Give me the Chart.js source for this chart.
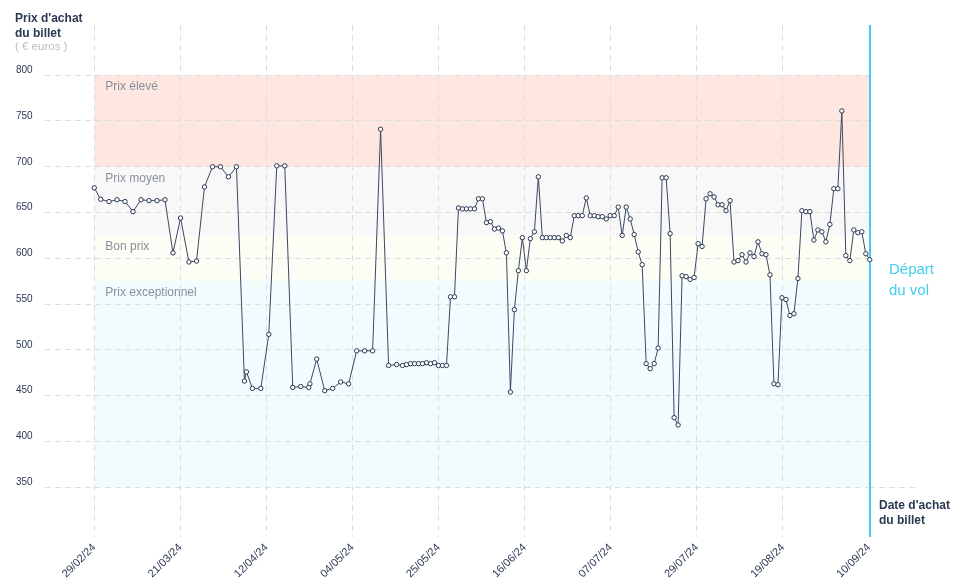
<!DOCTYPE html>
<html><head><meta charset="utf-8">
<script src="https://cdn.jsdelivr.net/npm/chart.js@4.4.1/dist/chart.umd.min.js"></script>
<style>html,body{margin:0;padding:0;background:#fff;}</style>
</head><body>
<canvas id="c" width="958" height="585"></canvas>
<script>
// Days since 29/02/24 for each observed purchase price
const dayOffsets = [
 0,1.6,3.7,5.7,7.7,9.7,11.7,13.7,15.7,17.7,
 19.7,21.6,23.7,25.6,27.6,29.6,31.6,33.6,35.6,37.6,
 38.1,39.6,41.7,43.7,45.7,47.7,49.7,51.7,53.7,54.0,
 55.7,57.7,59.7,61.7,63.7,65.7,67.7,69.7,71.7,73.7,
 75.7,77.2,78.2,79.2,80.2,81.2,82.2,83.2,84.2,85.2,
 86.2,87.2,88.2,89.2,90.2,91.2,92.2,93.2,94.2,95.2,
 96.2,97.2,98.2,99.2,100.2,101.2,102.2,103.2,104.2,105.2,
 106.2,107.2,108.2,109.2,110.2,111.2,112.2,113.2,114.2,115.2,
 116.2,117.2,118.2,119.2,120.2,121.2,122.2,123.2,124.2,125.2,
 126.2,127.2,128.2,129.2,130.2,131.2,132.2,133.2,134.2,135.2,
 136.2,137.2,138.2,139.2,140.2,141.2,142.2,143.2,144.2,145.2,
 146.2,147.2,148.2,149.2,150.2,151.2,152.2,153.2,154.2,155.2,
 156.2,157.2,158.2,159.2,160.2,161.2,162.2,163.2,164.2,165.2,
 166.2,167.2,168.2,169.2,170.2,171.2,172.2,173.2,174.2,175.2,
 176.2,177.2,178.2,179.2,180.2,181.2,182.2,183.2,184.2,185.2,
 186.2,187.2,188.2,189.2,190.2,191.2,192.2,193.2,194.2
];
const prices = [
 677,664.5,662,664,662,651,664,663,663,664,
 606,644,596,597,678,700,700,689,700,466,
 476,458,458,517,701,701,459,460,459,463,
 490,455.5,458,465,463,499,499,499,741,483,
 484,483,484,485,485,485,485,486,485,486,
 483,483,483,558,558,655,654,654,654,654,
 665,665,639,640,632,633,630,606,454,544,
 586.5,622.6,586.5,621.5,629,689,622.6,622.6,622.6,622.6,
 622.6,619,625,622.6,646.6,646.6,646.6,666,646.6,646.6,
 645.5,645.5,643,646.6,646.6,656,625,656,643,626,
 607,593,485,479.5,485,502,688,688,627,426,
 418,581,580,577,579,616,613,665,670.5,667,
 658.5,658.5,652,663,596,597.5,604,596,606,602,
 618,605,604,582,463,462,557,555,537.5,539.5,
 578,652,651,651,620,631,629,618,637,676,
 676,761,603,597.5,631,628,629,605,598.5
];
const xTickLabels = ['29/02/24','21/03/24','12/04/24','04/05/24','25/05/24','16/06/24','07/07/24','29/07/24','19/08/24','10/09/24'];
const firstDay = 0;
const departureDay = 194;
const yTickValues = [350,400,450,500,550,600,650,700,750,800];
const bandNames = ['Prix élevé','Prix moyen','Bon prix','Prix exceptionnel'];
const bandTops = [800,700,625,575];
const bandBottoms = [700,625,575,350];
const bandColors = ['#FEE7E1','#F8F8F8','#FCFDF4','#F2FCFE'];

const NAVY = '#2B3853';
const FONT = '"Liberation Sans", Arial, sans-serif';

const points = dayOffsets.map((d, i) => ({x: d, y: prices[i]}));

const decor = {
  id: 'decor',
  beforeDraw(chart) {
    const {ctx} = chart; const xs = chart.scales.x, ys = chart.scales.y;
    const x0 = xs.getPixelForValue(firstDay), x1 = xs.getPixelForValue(departureDay);
    ctx.save();
    bandNames.forEach((n, i) => {
      const yt = ys.getPixelForValue(bandTops[i]), yb = ys.getPixelForValue(bandBottoms[i]);
      ctx.fillStyle = bandColors[i];
      ctx.fillRect(x0, yt, x1 - x0, yb - yt);
    });
    ctx.restore();
  },
  beforeDatasetsDraw(chart) {
    const {ctx, chartArea} = chart; const xs = chart.scales.x, ys = chart.scales.y;
    ctx.save();
    const y350 = Math.round(ys.getPixelForValue(yTickValues[0])) + 0.5;
    ctx.strokeStyle = '#DEDEDE'; ctx.lineWidth = 1; ctx.setLineDash([6,4]);
    ctx.beginPath(); ctx.moveTo(chartArea.right, y350); ctx.lineTo(919, y350); ctx.stroke();
    ctx.setLineDash([]);
    ctx.font = '12px ' + FONT; ctx.fillStyle = '#8A909C'; ctx.textBaseline = 'middle'; ctx.textAlign = 'left';
    const x0 = xs.getPixelForValue(firstDay);
    bandNames.forEach((n, i) => {
      ctx.fillText(n, x0 + 11, ys.getPixelForValue(bandTops[i]) + 11.5);
    });
    // departure line
    const xd = Math.round(xs.getPixelForValue(departureDay)) + 1;
    ctx.strokeStyle = '#45CAF0'; ctx.lineWidth = 2;
    ctx.beginPath(); ctx.moveTo(xd, chartArea.top); ctx.lineTo(xd, chartArea.bottom); ctx.stroke();
    ctx.restore();
  },
  afterDraw(chart) {
    const {ctx} = chart;
    ctx.save();
    ctx.textBaseline = 'middle'; ctx.textAlign = 'left';
    ctx.fillStyle = NAVY; ctx.font = 'bold 12px ' + FONT;
    ctx.fillText("Prix d'achat", 15, 19);
    ctx.fillText('du billet', 15, 34);
    ctx.fillText("Date d'achat", 879, 506);
    ctx.fillText('du billet', 879, 521);
    ctx.fillStyle = '#BDBDBD'; ctx.font = '11.5px ' + FONT;
    ctx.fillText('( € euros )', 15, 47);
    ctx.fillStyle = '#3FCFF0'; ctx.font = '15px ' + FONT;
    ctx.fillText('Départ', 889, 270);
    ctx.fillText('du vol', 889, 291);
    ctx.restore();
  }
};

new Chart(document.getElementById('c'), {
  type: 'line',
  data: { datasets: [{
    data: points,
    borderColor: '#3A4866', borderWidth: 1, tension: 0,
    pointRadius: 2.2, pointBorderWidth: 1, pointBackgroundColor: '#ffffff', pointBorderColor: NAVY,
    clip: false
  }]},
  options: {
    responsive: false, animation: false, devicePixelRatio: 1,
    layout: { padding: { left: 16, right: 89, top: 25, bottom: 0 } },
    plugins: { legend: { display: false }, tooltip: { enabled: false } },
    scales: {
      x: {
        type: 'linear', min: -12.34, max: departureDay,
        afterBuildTicks: s => { s.ticks = xTickLabels.map((l, i) => ({ value: firstDay + i * (departureDay - firstDay) / (xTickLabels.length - 1) })); },
        afterFit: s => { s.height = 48; },
        ticks: { autoSkip: false, minRotation: 45, maxRotation: 45, padding: 4, color: NAVY,
                 font: { family: FONT, size: 11 }, callback: (v, i) => xTickLabels[i] },
        grid: { color: '#DEDEDE', lineWidth: 1, drawTicks: false, tickLength: 0 },
        border: { display: false, dash: [6,4] }
      },
      y: {
        type: 'linear', min: 295.7, max: 854.8,
        afterBuildTicks: s => { s.ticks = yTickValues.map(v => ({ value: v })); },
        afterFit: s => { s.width = 29; },
        ticks: { crossAlign: 'far', labelOffset: -5, padding: 0, color: NAVY,
                 font: { family: FONT, size: 10 }, callback: v => String(v) },
        grid: { color: '#DEDEDE', lineWidth: 1, drawTicks: false, tickLength: 0 },
        border: { display: false, dash: [6,4] }
      }
    }
  },
  plugins: [decor]
});
</script>
</body></html>
